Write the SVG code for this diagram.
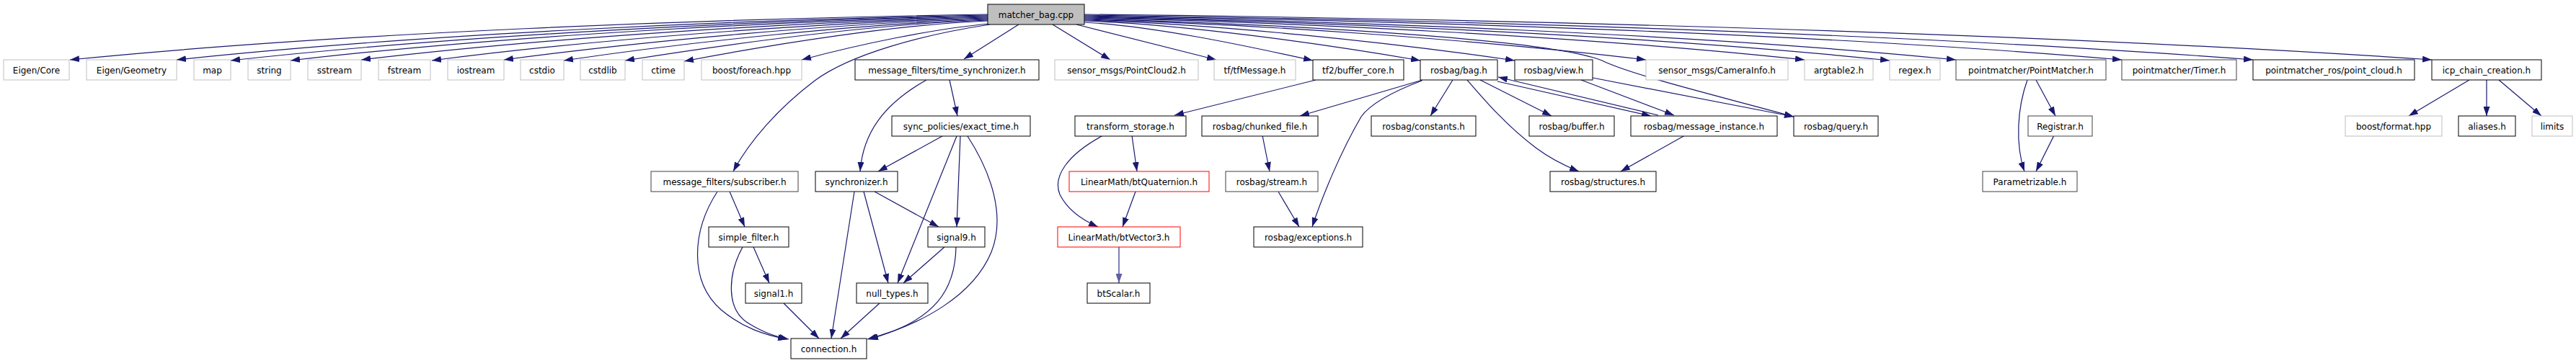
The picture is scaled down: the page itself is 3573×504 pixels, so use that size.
<svg xmlns="http://www.w3.org/2000/svg" width="3573" height="504" viewBox="0 0 3573 504">
<style>
rect{fill:#ffffff;stroke:#000000;stroke-width:1}
.g rect{stroke:#bfbfbf}
.d rect{stroke:#404040}
.r rect{stroke:#ff0000}
.root rect{fill:#bfbfbf;stroke:#000000}
text{font-family:"DejaVu Sans","Liberation Sans",sans-serif;font-size:12px;text-anchor:middle;fill:#000000}
#edges path{fill:none;stroke:#191970;stroke-width:1.2;marker-end:url(#ah)}
#edges path.l{stroke:#5f5fa3;stroke-width:1.6;marker-end:url(#ahl)}
</style>
<defs>
<marker id="ah" markerUnits="userSpaceOnUse" viewBox="0 0 13 9" markerWidth="13" markerHeight="9" refX="13" refY="4.5" orient="auto"><path d="M0,0 L13,4.5 L0,9 z" fill="#191970"/></marker>
<marker id="ahl" markerUnits="userSpaceOnUse" viewBox="0 0 13 9" markerWidth="13" markerHeight="9" refX="13" refY="4.5" orient="auto"><path d="M0,0 L13,4.5 L0,9 z" fill="#5f5fa3"/></marker>
</defs>
<rect x="0" y="0" width="3573" height="504" style="fill:#ffffff;stroke:none"/>
<g id="edges">
<path d="M1370,20 C988,26 479,45 97,83"/>
<path d="M1370,21 C1032,27 583,47 245,83"/>
<path d="M1370,22 C1055,28 635,49 320,84"/>
<path d="M1370,23 C1080,29 693,50 403,84"/>
<path d="M1370,24 C1109,30 762,52 501,83"/>
<path d="M1370,25 C1138,31 830,54 599,84"/>
<path d="M1370,26 C1169,32 900,56 699,83"/>
<path d="M1370,27 C1194,33 958,58 782,84"/>
<path d="M1370,28 C1219,33 1018,60 867,84"/>
<path d="M1370,29 C1244,34 1075,61 949,85"/>
<path d="M1372,33 C1294,40 1190,62 1112,83"/>
<path d="M1373,34 C1280,48 1180,75 1130,112 C1080,150 1040,195 1017,238"/>
<path d="M1413,34 L1337,82"/>
<path d="M1460,34 L1540,83"/>
<path d="M1493,34 L1687,83"/>
<path d="M1504,31 C1599,36 1726,63 1821,84"/>
<path d="M1504,29 C1644,34 1830,60 1970,84"/>
<path d="M1504,28 C1683,33 1922,58 2101,84"/>
<path d="M1504,26 C1800,34 2150,55 2222,84 C2262,104 2390,135 2488,162"/>
<path d="M1504,27 C1738,33 2049,55 2283,83"/>
<path d="M1504,25 C1804,31 2203,51 2503,83"/>
<path d="M1504,24 C1839,30 2286,49 2621,84"/>
<path d="M1504,23 C1867,29 2350,47 2713,83"/>
<path d="M1504,22 C1936,28 2511,46 2943,83"/>
<path d="M1504,21 C1990,27 2639,46 3125,83"/>
<path d="M1504,20 C2065,26 2812,45 3373,83"/>
<path d="M1317,111 L1328,161"/>
<path d="M1285,111 C1225,145 1197,185 1193,238"/>
<path d="M1307,189 L1218,238"/>
<path d="M1327,189 L1245,393"/>
<path d="M1332,189 L1327,315"/>
<path d="M1342,189 C1375,240 1395,300 1375,350 C1350,410 1280,450 1203,471"/>
<path d="M1213,266 L1302,315"/>
<path d="M1198,266 L1232,393"/>
<path d="M1185,266 L1153,470"/>
<path d="M1310,343 L1253,393"/>
<path d="M1326,343 C1325,400 1300,445 1205,471"/>
<path d="M1220,421 L1166,470"/>
<path d="M1012,266 L1033,315"/>
<path d="M995,266 C960,320 955,390 1000,430 C1030,455 1060,465 1092,471"/>
<path d="M1045,343 L1067,393"/>
<path d="M1030,343 C1010,380 1005,430 1040,450 C1060,462 1075,467 1094,471"/>
<path d="M1087,421 L1136,470"/>
<path d="M1825,111 L1629,160"/>
<path d="M1570,188 L1577,238"/>
<path d="M1530,188 C1480,215 1460,245 1470,270 C1480,290 1500,305 1523,315"/>
<path d="M1575,266 L1557,315"/>
<path class="l" d="M1552,343 L1552,393"/>
<path d="M1973,111 L1803,161"/>
<path d="M1972,112 C1930,128 1900,145 1888,162 C1860,210 1835,270 1820,315"/>
<path d="M2015,111 L1984,161"/>
<path d="M2035,111 C2060,140 2090,175 2130,205 C2150,220 2170,230 2190,238"/>
<path d="M2053,111 L2152,161"/>
<path d="M2077,113 L2290,161"/>
<path d="M2300,160 L2078,107"/>
<path d="M2193,111 L2322,160"/>
<path d="M2209,108 L2488,162"/>
<path d="M1751,188 L1761,238"/>
<path d="M1773,266 L1802,315"/>
<path d="M2337,188 L2248,238"/>
<path d="M2824,111 L2851,161"/>
<path d="M2812,111 C2798,150 2795,200 2808,238"/>
<path d="M2849,188 L2824,238"/>
<path d="M3425,111 L3341,161"/>
<path d="M3449,111 L3449,161"/>
<path d="M3466,111 L3525,161"/>
</g>
<g id="matcher_bag_cpp" class="root"><rect x="1370" y="6" width="134" height="28"/><text x="1437" y="24.5">matcher_bag.cpp</text></g>
<g id="eigen_core" class="g"><rect x="5" y="83" width="91" height="28"/><text x="50.5" y="101.5">Eigen/Core</text></g>
<g id="eigen_geometry" class="g"><rect x="120" y="83" width="125" height="28"/><text x="182.5" y="101.5">Eigen/Geometry</text></g>
<g id="map" class="g"><rect x="269" y="83" width="51" height="28"/><text x="294.5" y="101.5">map</text></g>
<g id="string" class="g"><rect x="344" y="83" width="59" height="28"/><text x="373.5" y="101.5">string</text></g>
<g id="sstream" class="g"><rect x="427" y="83" width="74" height="28"/><text x="464" y="101.5">sstream</text></g>
<g id="fstream" class="g"><rect x="525" y="83" width="72" height="28"/><text x="561" y="101.5">fstream</text></g>
<g id="iostream" class="g"><rect x="621" y="83" width="78" height="28"/><text x="660" y="101.5">iostream</text></g>
<g id="cstdio" class="g"><rect x="722" y="83" width="60" height="28"/><text x="752" y="101.5">cstdio</text></g>
<g id="cstdlib" class="g"><rect x="805" y="83" width="62" height="28"/><text x="836" y="101.5">cstdlib</text></g>
<g id="ctime" class="g"><rect x="891" y="83" width="58" height="28"/><text x="920" y="101.5">ctime</text></g>
<g id="boost_foreach" class="g"><rect x="973" y="83" width="139" height="28"/><text x="1042.5" y="101.5">boost/foreach.hpp</text></g>
<g id="time_synchronizer"><rect x="1186" y="83" width="255" height="28"/><text x="1313.5" y="101.5">message_filters/time_synchronizer.h</text></g>
<g id="pointcloud2" class="g"><rect x="1463" y="83" width="199" height="28"/><text x="1562.5" y="101.5">sensor_msgs/PointCloud2.h</text></g>
<g id="tfmessage" class="g"><rect x="1684" y="83" width="113" height="28"/><text x="1740.5" y="101.5">tf/tfMessage.h</text></g>
<g id="buffer_core"><rect x="1821" y="83" width="126" height="28"/><text x="1884" y="101.5">tf2/buffer_core.h</text></g>
<g id="bag"><rect x="1970" y="83" width="107" height="28"/><text x="2023.5" y="101.5">rosbag/bag.h</text></g>
<g id="view"><rect x="2101" y="83" width="108" height="28"/><text x="2155" y="101.5">rosbag/view.h</text></g>
<g id="camerainfo" class="g"><rect x="2283" y="83" width="197" height="28"/><text x="2381.5" y="101.5">sensor_msgs/CameraInfo.h</text></g>
<g id="argtable2" class="g"><rect x="2503" y="83" width="95" height="28"/><text x="2550.5" y="101.5">argtable2.h</text></g>
<g id="regex" class="g"><rect x="2621" y="83" width="70" height="28"/><text x="2656" y="101.5">regex.h</text></g>
<g id="pointmatcher" class="d"><rect x="2713" y="83" width="208" height="28"/><text x="2817" y="101.5">pointmatcher/PointMatcher.h</text></g>
<g id="timer" class="d"><rect x="2943" y="83" width="159" height="28"/><text x="3022.5" y="101.5">pointmatcher/Timer.h</text></g>
<g id="point_cloud"><rect x="3125" y="83" width="224" height="28"/><text x="3237" y="101.5">pointmatcher_ros/point_cloud.h</text></g>
<g id="icp_chain_creation"><rect x="3373" y="83" width="152" height="28"/><text x="3449" y="101.5">icp_chain_creation.h</text></g>
<g id="exact_time"><rect x="1237" y="161" width="192" height="28"/><text x="1333" y="179.5">sync_policies/exact_time.h</text></g>
<g id="transform_storage"><rect x="1491" y="161" width="154" height="28"/><text x="1568" y="179.5">transform_storage.h</text></g>
<g id="chunked_file"><rect x="1667" y="161" width="161" height="28"/><text x="1747.5" y="179.5">rosbag/chunked_file.h</text></g>
<g id="constants"><rect x="1902" y="161" width="145" height="28"/><text x="1974.5" y="179.5">rosbag/constants.h</text></g>
<g id="buffer"><rect x="2121" y="161" width="118" height="28"/><text x="2180" y="179.5">rosbag/buffer.h</text></g>
<g id="message_instance"><rect x="2262" y="161" width="203" height="28"/><text x="2363.5" y="179.5">rosbag/message_instance.h</text></g>
<g id="query"><rect x="2488" y="161" width="117" height="28"/><text x="2546.5" y="179.5">rosbag/query.h</text></g>
<g id="registrar" class="d"><rect x="2813" y="161" width="89" height="28"/><text x="2857.5" y="179.5">Registrar.h</text></g>
<g id="boost_format" class="g"><rect x="3253" y="161" width="134" height="28"/><text x="3320" y="179.5">boost/format.hpp</text></g>
<g id="aliases"><rect x="3410" y="161" width="79" height="28"/><text x="3449.5" y="179.5">aliases.h</text></g>
<g id="limits" class="g"><rect x="3512" y="161" width="56" height="28"/><text x="3540" y="179.5">limits</text></g>
<g id="subscriber" class="d"><rect x="903" y="238" width="204" height="28"/><text x="1005" y="256.5">message_filters/subscriber.h</text></g>
<g id="synchronizer"><rect x="1131" y="238" width="114" height="28"/><text x="1188" y="256.5">synchronizer.h</text></g>
<g id="btquaternion" class="r"><rect x="1483" y="238" width="194" height="28"/><text x="1580" y="256.5">LinearMath/btQuaternion.h</text></g>
<g id="stream" class="d"><rect x="1700" y="238" width="128" height="28"/><text x="1764" y="256.5">rosbag/stream.h</text></g>
<g id="structures"><rect x="2150" y="238" width="147" height="28"/><text x="2223.5" y="256.5">rosbag/structures.h</text></g>
<g id="parametrizable" class="d"><rect x="2750" y="238" width="131" height="28"/><text x="2815.5" y="256.5">Parametrizable.h</text></g>
<g id="simple_filter"><rect x="983" y="315" width="111" height="28"/><text x="1038.5" y="333.5">simple_filter.h</text></g>
<g id="signal9"><rect x="1287" y="315" width="79" height="28"/><text x="1326.5" y="333.5">signal9.h</text></g>
<g id="btvector3" class="r"><rect x="1467" y="315" width="170" height="28"/><text x="1552" y="333.5">LinearMath/btVector3.h</text></g>
<g id="exceptions"><rect x="1739" y="315" width="151" height="28"/><text x="1814.5" y="333.5">rosbag/exceptions.h</text></g>
<g id="signal1"><rect x="1034" y="393" width="78" height="28"/><text x="1073" y="411.5">signal1.h</text></g>
<g id="null_types"><rect x="1188" y="393" width="99" height="28"/><text x="1237.5" y="411.5">null_types.h</text></g>
<g id="btscalar"><rect x="1508" y="393" width="87" height="28"/><text x="1551.5" y="411.5">btScalar.h</text></g>
<g id="connection"><rect x="1097" y="470" width="105" height="28"/><text x="1149.5" y="488.5">connection.h</text></g>
</svg>
